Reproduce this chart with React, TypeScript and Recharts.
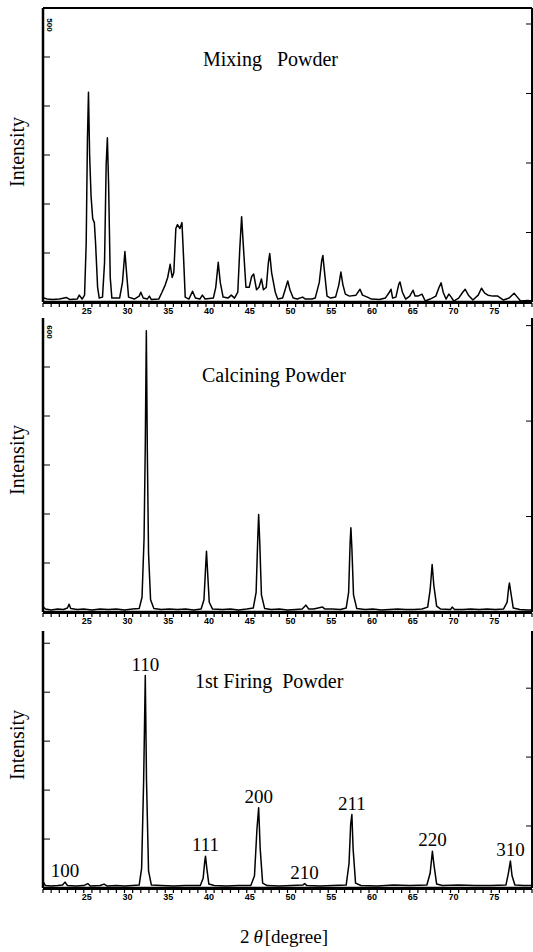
import React from 'react';
import { LineChart, Line, XAxis, YAxis, ReferenceDot } from 'recharts';

const SERIF = '"Liberation Serif", "Times New Roman", serif';

// Mixing powder scan: 2θ (deg) and counts
const mixAngle = [
  20.1, 20.5, 21.2, 22.0, 22.9, 23.3, 24.2, 24.45, 24.8, 25.1, 25.3, 25.45, 25.58, 25.72, 25.9, 26.1, 26.3, 26.45,
  26.7, 26.9, 27.3, 27.55, 27.75, 27.9, 28.05, 28.25, 28.45, 29.4, 29.75, 30.05, 30.25, 30.5, 31.2, 31.8, 32.0,
  32.3, 32.8, 33.05, 33.3, 34.2, 34.6, 35.0, 35.3, 35.6, 35.85, 36.05, 36.3, 36.5, 36.8, 37.05, 37.25, 37.45, 37.9,
  38.35, 38.7, 39.25, 39.55, 39.9, 40.9, 41.2, 41.5, 41.75, 42.1, 42.7, 43.1, 43.5, 43.9, 44.15, 44.37, 44.6, 44.9,
  45.3, 45.6, 45.85, 46.2, 46.5, 46.8, 47.05, 47.4, 47.65, 47.82, 48.05, 48.5, 48.8, 49.4, 49.8, 50.03, 50.3, 50.7,
  51.2, 51.85, 52.2, 53.0, 53.4, 53.9, 54.2, 54.34, 54.55, 54.85, 55.3, 55.9, 56.3, 56.55, 56.8, 57.1, 57.6, 58.4,
  58.9, 59.2, 59.8, 60.3, 61.3, 62.0, 62.5, 62.7, 62.9, 63.3, 63.65, 63.8, 64.1, 64.5, 65.0, 65.4, 65.65, 66.0,
  66.5, 66.9, 67.5, 68.2, 68.6, 68.85, 69.1, 69.45, 69.8, 70.0, 70.4, 71.0, 71.5, 71.8, 72.2, 72.75, 73.4, 73.8,
  74.2, 74.6, 75.2, 75.8, 76.5, 77.2, 77.8, 78.1, 78.6, 79.5, 80.0,
];
const mixCount = [
  8, 6, 5, 6, 9, 5, 6, 14, 6, 14, 120, 330, 428, 300, 215, 170, 162, 120,
  30, 8, 10, 80, 280, 335, 240, 50, 8, 8, 40, 103, 60, 10, 6, 12, 20,
  8, 6, 12, 5, 6, 20, 35, 50, 77, 50, 60, 150, 158, 150, 162, 90, 10, 6,
  22, 8, 6, 14, 6, 8, 30, 81, 40, 10, 8, 14, 8, 20, 110, 174, 110, 30,
  30, 52, 57, 25, 30, 47, 25, 30, 80, 99, 60, 20, 6, 8, 30, 43, 25, 8,
  6, 10, 6, 6, 8, 40, 85, 95, 60, 12, 8, 10, 35, 61, 35, 16, 12, 14,
  26, 14, 10, 6, 5, 8, 20, 26, 8, 10, 36, 41, 20, 6, 12, 24, 12, 12,
  16, 2, 6, 12, 30, 39, 20, 6, 16, 12, 2, 8, 20, 26, 14, 4, 14, 28,
  18, 14, 12, 12, 4, 8, 18, 12, 2, 3, 2,
];

// Calcining powder scan
const calAngle = [
  20.05, 20.3, 21.0, 21.8, 22.5, 23.0, 23.2, 23.4, 24.2, 25.0, 26.0, 27.0, 28.0, 29.0, 30.0, 31.0, 31.8, 32.15,
  32.4, 32.55, 32.68, 32.8, 32.95, 33.2, 33.6, 34.5, 35.5, 36.5, 37.5, 38.5, 39.4, 39.75, 39.95, 40.06, 40.2, 40.4,
  40.8, 42.0, 43.0, 44.0, 45.0, 45.8, 46.15, 46.35, 46.46, 46.6, 46.8, 47.2, 48.0, 49.0, 50.0, 51.0, 51.8, 52.25,
  52.6, 53.2, 54.3, 54.6, 55.5, 56.5, 57.2, 57.5, 57.68, 57.78, 57.9, 58.1, 58.5, 59.5, 60.5, 61.5, 62.5, 63.5,
  64.5, 65.5, 66.5, 67.2, 67.5, 67.75, 67.95, 68.3, 68.8, 70.0, 70.2, 70.5, 71.5, 72.5, 73.5, 74.5, 75.5, 76.5,
  76.95, 77.15, 77.23, 77.4, 77.7, 78.5, 79.5, 80.0,
];
const calCount = [
  10, 6, 4, 6, 5, 8, 16, 7, 5, 6, 4, 6, 5, 6, 4, 6, 7, 30,
  150, 340, 574, 330, 120, 25, 7, 5, 6, 5, 6, 4, 6, 25, 90, 124, 80, 20,
  6, 5, 6, 4, 6, 8, 40, 150, 199, 140, 35, 7, 5, 6, 4, 5, 6, 14,
  6, 6, 10, 6, 6, 5, 8, 40, 140, 172, 130, 35, 7, 5, 6, 4, 5, 6,
  5, 5, 6, 10, 45, 97, 55, 12, 6, 5, 10, 5, 5, 6, 5, 6, 5, 6,
  20, 52, 59, 40, 8, 5, 4, 4,
];

// 1st firing powder scan
const fireAngle = [
  20.05, 20.3, 21.0, 21.8, 22.4, 22.7, 23.0, 24.0, 25.0, 25.5, 25.8, 27.0, 27.5, 27.9, 29.0, 30.0, 31.0, 31.8,
  32.1, 32.35, 32.55, 32.7, 32.95, 33.3, 34.5, 36.0, 37.5, 39.3, 39.65, 39.85, 39.94, 40.1, 40.35, 41.0, 42.5, 44.0,
  45.5, 45.95, 46.25, 46.46, 46.65, 46.95, 47.5, 49.0, 50.5, 51.9, 52.1, 52.4, 54.0, 55.5, 57.2, 57.55, 57.75, 57.9,
  58.05, 58.35, 59.0, 61.0, 63.0, 65.0, 67.1, 67.5, 67.78, 67.95, 68.3, 69.0, 71.0, 73.0, 75.0, 76.8, 77.1, 77.35,
  77.55, 77.9, 79.0, 80.0,
];
const fireCount = [
  12, 5, 4, 5, 6, 12, 5, 4, 5, 9, 4, 5, 8, 4, 5, 4, 5, 6,
  40, 220, 434, 220, 35, 6, 5, 4, 5, 5, 20, 55, 65, 40, 8, 5, 4, 5,
  5, 25, 120, 164, 80, 10, 5, 4, 5, 6, 9, 5, 4, 5, 6, 50, 130, 150,
  80, 10, 5, 4, 6, 5, 6, 30, 75, 50, 8, 5, 6, 5, 5, 6, 30, 55,
  25, 6, 5, 5,
];

// indexed reflections of the fired powder
const hklLabels = ['100', '110', '111', '200', '210', '211', '220', '310'];
const hklAngle = [22.7, 32.55, 39.94, 46.46, 52.1, 57.9, 67.78, 77.35];
const hklCount = [12, 434, 65, 164, 9, 150, 75, 55];

const rulerLabels = [25, 30, 35, 40, 45, 50, 55, 60, 65, 70, 75];
const rulerTicks = Array.from({ length: 61 }, (_, i) => 20 + i);
const leftTicks = [100, 200, 300, 400, 500];

const toRows = (angle: number[], count: number[]) => angle.map((a, i) => ({ angle: a, count: count[i] }));

const EmptyTick = () => <g />;

const RulerTick = (props: any) => {
  const { x, y, payload } = props;
  if (!rulerLabels.includes(payload.value)) return <g />;
  return (
    <text x={x + 3} y={y + 7} textAnchor="middle" fontSize={9} fontWeight="bold"
      fontFamily='"Liberation Sans", Arial, sans-serif' fill="#000">
      {payload.value}
    </text>
  );
};

type PanelProps = {
  rows: { angle: number; count: number }[];
  top: number;
  height: number;
  left: number;
  yMax: number;
  rightMax: number;
  rightTicks: number[];
  rulerHeight: number;
  topBorder: boolean;
  children?: React.ReactNode;
};

function ScanPanel({ rows, top, height, left, yMax, rightMax, rightTicks, rulerHeight, topBorder, children }: PanelProps) {
  return (
    <div style={{ position: 'absolute', top, left: 0 }}>
      <LineChart width={533} height={height} data={rows} margin={{ top: 7, right: 1, bottom: 2, left: left - 1 }}>
        <XAxis xAxisId="top" orientation="top" dataKey="angle" type="number" domain={[20, 80]} allowDataOverflow
          height={1} tick={EmptyTick} tickLine={false}
          axisLine={topBorder ? { stroke: '#000', strokeWidth: 2 } : false} />
        <XAxis xAxisId="ruler" dataKey="angle" type="number" domain={[20, 80]} allowDataOverflow
          ticks={rulerTicks} interval={0} height={rulerHeight} tickSize={4} tickMargin={0}
          tick={RulerTick} tickLine={{ stroke: '#000', strokeWidth: 1.2 }} axisLine={{ stroke: '#000', strokeWidth: 2 }} />
        <XAxis xAxisId="frame" dataKey="angle" type="number" domain={[20, 80]} allowDataOverflow
          height={1} tick={EmptyTick} tickLine={false} axisLine={{ stroke: '#000', strokeWidth: 2.5 }} />
        <YAxis yAxisId="left" type="number" domain={[0, yMax]} allowDataOverflow ticks={leftTicks}
          width={1} mirror tickSize={7} tick={EmptyTick} tickLine={{ stroke: '#000' }}
          axisLine={{ stroke: '#000', strokeWidth: 2.5 }} />
        <YAxis yAxisId="right" orientation="right" type="number" domain={[0, rightMax]} allowDataOverflow
          ticks={rightTicks} width={1} mirror tickSize={6} tick={EmptyTick} tickLine={{ stroke: '#000' }}
          axisLine={{ stroke: '#000', strokeWidth: 2 }} />
        {/* unstroked copies tie the frame axes to the chart */}
        <Line xAxisId="top" yAxisId="right" dataKey="count" stroke="none" dot={false} isAnimationActive={false} />
        <Line xAxisId="frame" yAxisId="right" dataKey="count" stroke="none" dot={false} isAnimationActive={false} />
        <Line xAxisId="ruler" yAxisId="left" dataKey="count" type="linear" stroke="#000" strokeWidth={1.5}
          strokeLinejoin="round" dot={false} isAnimationActive={false} />
        {children}
      </LineChart>
    </div>
  );
}

export default function App() {
  return (
    <div style={{ position: 'absolute', top: 0, left: 0, width: 533, height: 952, background: '#fff' }}>
      <ScanPanel rows={toRows(mixAngle, mixCount)} top={0} height={318} left={44} yMax={600}
        rightMax={4.23} rightTicks={[1, 2, 3, 4]} rulerHeight={13} topBorder />
      <ScanPanel rows={toRows(calAngle, calCount)} top={310} height={317} left={44} yMax={600}
        rightMax={3.08} rightTicks={[1, 2, 3]} rulerHeight={12} topBorder={false} />
      <ScanPanel rows={toRows(fireAngle, fireCount)} top={623} height={281} left={44} yMax={525}
        rightMax={3.73} rightTicks={[0.9, 1.9, 2.9]} rulerHeight={13} topBorder={false}>
        {hklLabels.map((hkl, i) => (
          <ReferenceDot key={hkl} xAxisId="ruler" yAxisId="left" x={hklAngle[i]} y={hklCount[i]} r={0}
            label={{ value: hkl, position: 'top', offset: 5, fontSize: 19, fontFamily: SERIF, fill: '#000' }} />
        ))}
      </ScanPanel>

      <svg width={533} height={952} style={{ position: 'absolute', top: 0, left: 0, pointerEvents: 'none' }}
        fontFamily={SERIF} fill="#000">
        <text x={203} y={66} fontSize={20} style={{ whiteSpace: 'pre' }}>{'Mixing   Powder'}</text>
        <text x={202} y={382} fontSize={20}>Calcining Powder</text>
        <text x={195} y={688} fontSize={20} style={{ whiteSpace: 'pre' }}>{'1st Firing  Powder'}</text>

        <text transform="translate(17,152) rotate(-90)" textAnchor="middle" dominantBaseline="central" fontSize={20}>Intensity</text>
        <text transform="translate(17,460) rotate(-90)" textAnchor="middle" dominantBaseline="central" fontSize={20}>Intensity</text>
        <text transform="translate(17,745) rotate(-90)" textAnchor="middle" dominantBaseline="central" fontSize={20}>Intensity</text>

        <text transform="translate(49,25) rotate(90)" textAnchor="middle" dominantBaseline="central" fontSize={8}
          fontWeight="bold" fontFamily='"Liberation Sans", Arial, sans-serif'>500</text>
        <text transform="translate(49,332) rotate(90)" textAnchor="middle" dominantBaseline="central" fontSize={8}
          fontWeight="bold" fontFamily='"Liberation Sans", Arial, sans-serif'>600</text>

        <text x={284} y={943} textAnchor="middle" fontSize={19}>
          2<tspan fontStyle="italic" dx={4}>θ</tspan><tspan dx={2}>[degree]</tspan>
        </text>
      </svg>
    </div>
  );
}
